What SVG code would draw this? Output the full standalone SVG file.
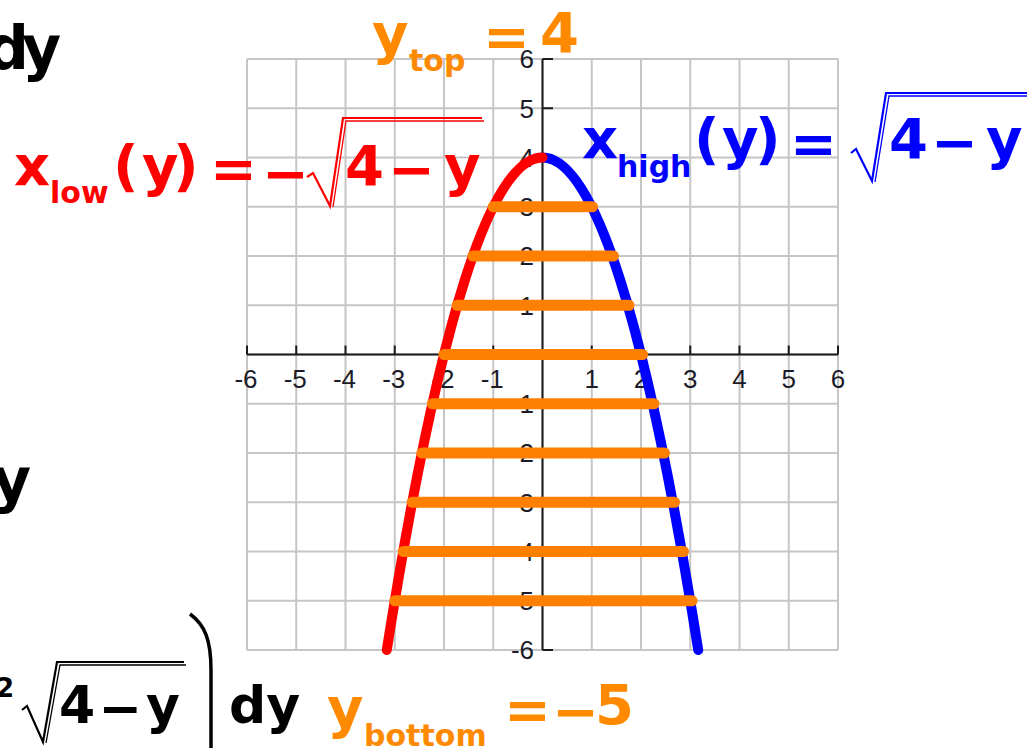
<svg xmlns="http://www.w3.org/2000/svg" width="1027" height="748" viewBox="0 0 1027 748">
<style>
.gl{stroke:#c6c6c6;stroke-width:2;fill:none}
.ax{stroke:#1a1a1a;stroke-width:2;fill:none}
.lbl{font-family:"Liberation Sans",Arial,sans-serif;font-size:26px;fill:#1c1c28}
.lx{text-anchor:middle}
.ly{text-anchor:end}
.m{font-family:"DejaVu Sans",Verdana,sans-serif;font-weight:bold}
.big{font-size:56px}
.mid{font-size:52px}
.sub{font-size:30px}
.red{fill:#ff0000}
.blue{fill:#0000ff}
.org{fill:#ff8a00}
.blk{fill:#000000}
.rs{fill:none;stroke:#ff0000}
.bs{fill:none;stroke:#0000ff}
.ks{fill:none;stroke:#000000}
.slice{stroke:#ff8000;stroke-width:11;stroke-linecap:round}
.curve{fill:none;stroke-width:10;stroke-linecap:round}
</style>
<rect width="1027" height="748" fill="#ffffff"/>
<g id="grid" class="gl">
<path d="M247,59V650M296.25,59V650M345.5,59V650M394.75,59V650M444,59V650M493.25,59V650M542.5,59V650M591.75,59V650M641,59V650M690.25,59V650M739.5,59V650M788.75,59V650M838,59V650"/>
<path d="M247,59H838M247,108.25H838M247,157.5H838M247,206.75H838M247,256H838M247,305.25H838M247,354.5H838M247,403.75H838M247,453H838M247,502.25H838M247,551.5H838M247,600.75H838M247,650H838"/>
</g>
<g id="axes" class="ax">
<path d="M247,354.5H838"/>
<path d="M542.5,59V650"/>
<path d="M247,354.5V345.5M296.25,354.5V345.5M345.5,354.5V345.5M394.75,354.5V345.5M444,354.5V345.5M493.25,354.5V345.5M591.75,354.5V345.5M641,354.5V345.5M690.25,354.5V345.5M739.5,354.5V345.5M788.75,354.5V345.5M838,354.5V345.5"/>
<path d="M542.5,59H553M542.5,108.25H553M542.5,157.5H553M542.5,206.75H553M542.5,256H553M542.5,305.25H553M542.5,403.75H553M542.5,453H553M542.5,502.25H553M542.5,551.5H553M542.5,600.75H553M542.5,650H553"/>
</g>
<g id="x-labels" class="lbl lx">
<text x="246" y="388">-6</text><text x="295.25" y="388">-5</text><text x="344.5" y="388">-4</text><text x="393.75" y="388">-3</text><text x="443" y="388">-2</text><text x="492.25" y="388">-1</text>
<text x="591.75" y="388">1</text><text x="641" y="388">2</text><text x="690.25" y="388">3</text><text x="739.5" y="388">4</text><text x="788.75" y="388">5</text><text x="838" y="388">6</text>
</g>
<g id="y-labels" class="lbl ly">
<text x="534" y="68">6</text><text x="534" y="117.5">5</text><text x="534" y="166.5">4</text><text x="534" y="216">3</text><text x="534" y="265">2</text><text x="534" y="314.5">1</text>
<text x="534" y="413">-1</text><text x="534" y="462">-2</text><text x="534" y="511.5">-3</text><text x="534" y="560.5">-4</text><text x="534" y="610">-5</text><text x="534" y="659">-6</text>
</g>
<g id="curves">
<path id="x-high-curve" class="curve" stroke="#0000ff" d="M542.5,157.5 Q620.37,157.5 698.23,650"/>
<path id="x-low-curve" class="curve" stroke="#ff0000" d="M542.5,157.5 Q464.63,157.5 386.77,650"/>
</g>
<g id="slices" class="slice">
<line x1="493.25" y1="206.75" x2="592.5" y2="206.75"/>
<line x1="472.85" y1="256" x2="613.5" y2="256"/>
<line x1="457.2" y1="305.25" x2="629" y2="305.25"/>
<line x1="444" y1="354.5" x2="642.5" y2="354.5"/>
<line x1="432.4" y1="403.75" x2="654" y2="403.75"/>
<line x1="421.9" y1="453" x2="664.5" y2="453"/>
<line x1="412.2" y1="502.25" x2="674.5" y2="502.25"/>
<line x1="403.2" y1="551.5" x2="683.5" y2="551.5"/>
<line x1="394.75" y1="600.75" x2="692" y2="600.75"/>
</g>
<g id="x-low-formula">
<text class="m big red" x="14" y="185">x</text>
<text class="m sub red" x="50" y="203">low</text>
<text class="m big red" y="185"><tspan x="113">(</tspan><tspan x="142">y</tspan><tspan x="173">)</tspan></text>
<text class="m big red"><tspan x="210" y="188">=</tspan><tspan x="262" y="193">−</tspan><tspan x="345" y="185">4</tspan><tspan x="388" y="189">−</tspan><tspan x="444" y="185">y</tspan></text>
<path class="rs" stroke-width="2.2" d="M307,177 L313,173 L330,206 L343,118 L482,118"/>
<path class="rs" stroke-width="1.3" d="M333,207 L346,121 L484,121"/>
</g>
<g id="x-high-formula">
<text class="m big blue" x="582" y="158">x</text>
<text class="m sub blue" x="617" y="177">high</text>
<text class="m big blue" y="158"><tspan x="694">(</tspan><tspan x="722">y</tspan><tspan x="755">)</tspan></text>
<text class="m big blue"><tspan x="790" y="163">=</tspan><tspan x="889" y="158">4</tspan><tspan x="931" y="162">−</tspan><tspan x="986" y="158">y</tspan></text>
<path class="bs" stroke-width="2.2" d="M851,153 L856,149 L872,181 L886,93 L1030,93"/>
<path class="bs" stroke-width="1.3" d="M875,182 L889,96 L1030,96"/>
</g>
<g id="y-top-label">
<text class="m big org" x="372" y="53">y</text>
<text class="m sub org" x="409" y="71">top</text>
<text class="m big org"><tspan x="483" y="56">=</tspan><tspan x="540" y="52">4</tspan></text>
</g>
<g id="y-bottom-label">
<text class="m big org" x="327" y="727">y</text>
<text class="m sub org" x="364" y="746">bottom</text>
<text class="m big org"><tspan x="504" y="729">=</tspan><tspan x="552" y="731">−</tspan><tspan x="595" y="724">5</tspan></text>
</g>
<g id="left-fragments">
<text class="m blk" font-size="60" x="-14" y="69">d</text>
<text class="m blk" font-size="60" x="22" y="69">y</text>
<text class="m blk" font-size="60" x="-8" y="501">y</text>
<text class="m blk" font-size="26" x="-4" y="697">2</text>
<text class="m mid blk"><tspan x="59" y="723">4</tspan><tspan x="98.5" y="726">−</tspan><tspan x="146" y="723">y</tspan></text>
<path class="ks" stroke-width="2.2" d="M22,710 L27,706 L43,742 L57,662 L184,662"/>
<path class="ks" stroke-width="1.3" d="M46,743 L60,665 L186,665"/>
<path class="ks" stroke-width="3.5" d="M190,614 C205,625 211,640 211,670 L211,748"/>
<text class="m mid blk" x="229" y="723">dy</text>
</g>
</svg>
